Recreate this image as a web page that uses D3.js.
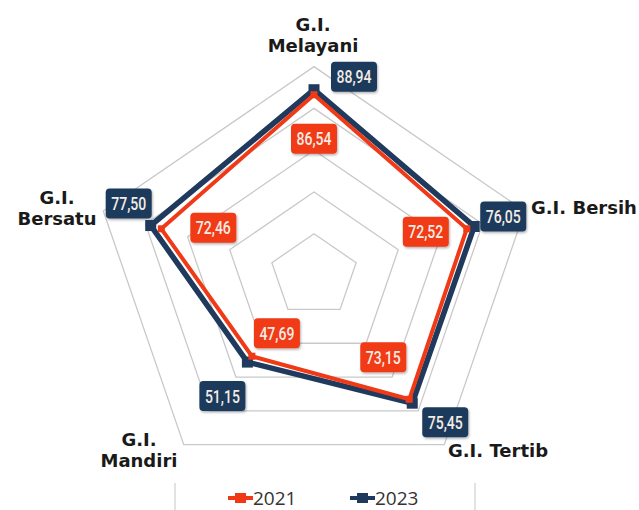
<!DOCTYPE html>
<html><head><meta charset="utf-8">
<script src="https://cdn.jsdelivr.net/npm/d3@7"></script>
<style>
html,body{margin:0;padding:0;background:#fff;}
svg{display:block;}
</style></head>
<body>
<svg id="chart" width="639" height="510"></svg>
<script>
// ---- data ----
const categories = ["G.I. Melayani", "G.I. Bersih", "G.I. Tertib", "G.I. Mandiri", "G.I. Bersatu"];
const years = ["2021", "2023"];
const values2021 = [86.54, 72.52, 73.15, 47.69, 72.46];
const values2023 = [88.94, 76.05, 75.45, 51.15, 77.50];
const ringLevels = [20, 40, 60, 80, 100];

// ---- layout ----
const W = 639, H = 510;
const cx = 314, cy = 275.6, R = 209, xStretch = 1.06;
const colors = {"2021": "#f03a17", "2023": "#1f3a5c"};
const svg = d3.select("#chart");

const rScale = d3.scaleLinear().domain([0, 100]).range([0, R]);
const angle = d3.scalePoint().domain(d3.range(categories.length)).range([0, 2*Math.PI*(categories.length-1)/categories.length]);
function pt(i, v){
  const a = angle(i), r = rScale(v);
  return [cx + Math.sin(a)*r*xStretch, cy - Math.cos(a)*r];
}

// filter for label shadow
const defs = svg.append("defs");
const f = defs.append("filter").attr("id","sh").attr("x","-20%").attr("y","-20%").attr("width","140%").attr("height","150%");
f.append("feDropShadow").attr("dx",1).attr("dy",1.5).attr("stdDeviation",1.2).attr("flood-color","#000").attr("flood-opacity",0.3);

// grid rings
const line = d3.line().curve(d3.curveLinearClosed);
svg.append("g").selectAll("path").data(ringLevels).join("path")
  .attr("d", lv => line(categories.map((c,i)=>pt(i, lv))))
  .attr("fill","none").attr("stroke","#c9c9c9").attr("stroke-width",1.3);

// series
const series = [
  {year: "2023", values: values2023, width: 5.5, marker: 11},
  {year: "2021", values: values2021, width: 4, marker: 7}
];
series.forEach(s => {
  const g = svg.append("g");
  g.append("path").attr("d", line(s.values.map((v,i)=>pt(i,v))))
    .attr("fill","none").attr("stroke", colors[s.year]).attr("stroke-width", s.width)
    .attr("stroke-linejoin","miter");
  g.selectAll("rect").data(s.values).join("rect")
    .attr("x",(v,i)=>pt(i,v)[0]-s.marker/2).attr("y",(v,i)=>pt(i,v)[1]-s.marker/2)
    .attr("width", s.marker).attr("height", s.marker).attr("fill", colors[s.year]);
});

// value labels
const labelOffsets = {
  "2023": [[40,-13],[29,-10],[33,19],[-25,34],[-22,-22]],
  "2021": [[0,44],[-41,3],[-26,-42],[25,-23],[52,-1]]
};
const fmt = v => d3.format(".2f")(v).replace(".", ",");
["2021","2023"].forEach(y => {
  const vals = y === "2021" ? values2021 : values2023;
  const g = svg.append("g");
  vals.forEach((v,i) => {
    const p = pt(i,v), o = labelOffsets[y][i];
    const x = p[0]+o[0], yy = p[1]+o[1];
    g.append("rect").attr("x", x-23).attr("y", yy-15).attr("width",46).attr("height",30)
      .attr("rx",4).attr("fill", colors[y]).attr("filter","url(#sh)");
    g.append("text").attr("x", x).attr("y", yy+6.5).attr("text-anchor","middle")
      .attr("font-family","Roboto,sans-serif")
      .attr("font-weight",500).attr("font-size",19).attr("fill","#f4ece4")
      .attr("textLength",35).attr("lengthAdjust","spacingAndGlyphs").text(fmt(v));
  });
});

// category labels
const catLayout = [
  {anchor:"middle", x:313, y:31, lines:2},
  {anchor:"start", x:531, y:214, lines:1},
  {anchor:"start", x:448, y:457, lines:1},
  {anchor:"middle", x:139, y:446, lines:2},
  {anchor:"middle", x:57, y:204, lines:2}
];
const cg = svg.append("g");
categories.forEach((c,i) => {
  const L = catLayout[i];
  const parts = L.lines === 2 ? [c.slice(0,4), c.slice(5)] : [c];
  const t = cg.append("text").attr("text-anchor", L.anchor)
    .attr("font-family","'DejaVu Sans',sans-serif").attr("font-weight","bold")
    .attr("font-size",18).attr("fill","#1a1a1a");
  parts.forEach((p,k) => t.append("tspan").attr("x", L.x).attr("y", L.y + k*21).text(p));
});

// legend
const lg = svg.append("g");
lg.selectAll("line.sep").data([175, 475]).join("line").attr("class","sep")
  .attr("x1",d=>d).attr("x2",d=>d).attr("y1",483).attr("y2",510)
  .attr("stroke","#d8d8d8").attr("stroke-width",1.5);
const legX = [228, 350];
years.forEach((y,k) => {
  const x0 = legX[k], ly = 498;
  lg.append("line").attr("x1",x0).attr("x2",x0+25).attr("y1",ly).attr("y2",ly)
    .attr("stroke",colors[y]).attr("stroke-width",4);
  lg.append("rect").attr("x",x0+7).attr("y",ly-5).attr("width",11).attr("height",10).attr("fill",colors[y]);
  lg.append("text").attr("x",x0+25).attr("y",ly+7).attr("font-family","'Open Sans',sans-serif")
    .attr("font-size",19).attr("fill","#333").text(y);
});
</script>
</body></html>
